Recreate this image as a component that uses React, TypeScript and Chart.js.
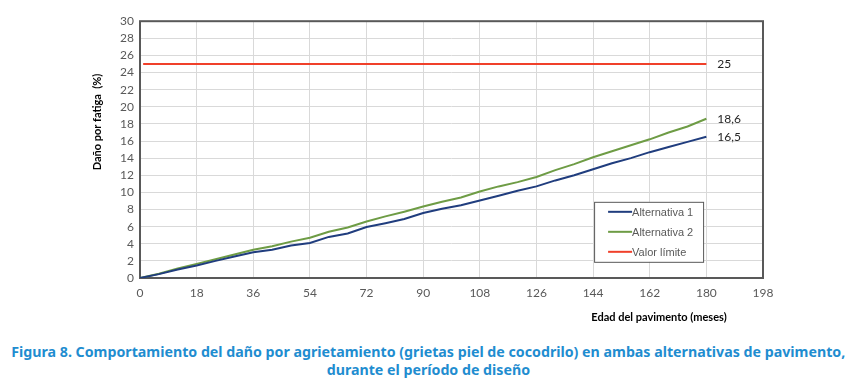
import React, { useEffect, useLayoutEffect, useRef } from "react";
import { Chart, registerables } from "chart.js";

Chart.register(...registerables);

const months = [0, 6, 12, 18, 24, 30, 36, 42, 48, 54, 60, 66, 72, 78, 84, 90, 96, 102, 108, 114, 120, 126, 132, 138, 144, 150, 156, 162, 168, 174, 180];
const alternativa1 = [0, 0.45, 1.0, 1.45, 2.0, 2.5, 3.0, 3.3, 3.8, 4.1, 4.8, 5.2, 5.95, 6.4, 6.9, 7.6, 8.1, 8.5, 9.05, 9.6, 10.2, 10.7, 11.4, 12.0, 12.7, 13.4, 14.0, 14.7, 15.3, 15.9, 16.5];
const alternativa2 = [0, 0.5, 1.1, 1.65, 2.2, 2.75, 3.3, 3.7, 4.25, 4.7, 5.4, 5.9, 6.6, 7.2, 7.75, 8.35, 8.9, 9.4, 10.1, 10.7, 11.2, 11.8, 12.6, 13.3, 14.1, 14.8, 15.5, 16.2, 17.0, 17.7, 18.6];
const limitMonths = [1, 180];
const limitValue = 25;
const seriesNames = ["Alternativa 1", "Alternativa 2", "Valor límite"];
const endLabels = ["16,5", "18,6", "25"];
const xTitle = "Edad del pavimento (meses)";
const yTitle = "Daño por fatiga  (%)";
const caption = [
  "Figura 8. Comportamiento del daño por agrietamiento (grietas piel de cocodrilo) en ambas alternativas de pavimento,",
  "durante el período de diseño",
];

const colors = ["#203d7e", "#6e9c45", "#f0402a"];

export default function App() {
  const ref = useRef<HTMLCanvasElement | null>(null);
  const capRefs = useRef<(HTMLSpanElement | null)[]>([]);

  useLayoutEffect(() => {
    const first = capRefs.current[0];
    if (!first) return;
    const w = first.getBoundingClientRect().width;
    const s = w > 0 ? 834 / w : 1;
    capRefs.current.forEach((el) => {
      if (el) el.style.transform = `scaleX(${s})`;
    });
  }, []);

  useEffect(() => {
    if (!ref.current) return;
    const overlay = {
      id: "overlay",
      beforeDatasetsDraw(chart: any) {
        const { ctx, chartArea: a } = chart;
        ctx.save();
        ctx.strokeStyle = "#595959";
        ctx.lineWidth = 2;
        ctx.strokeRect(a.left, a.top, a.right - a.left, a.bottom - a.top);
        ctx.restore();
      },
      afterDraw(chart: any) {
        const { ctx, scales } = chart;
        const xs = scales.x;
        const ys = scales.y;
        ctx.save();
        ctx.font = "12px Lato, 'Liberation Sans', sans-serif";
        ctx.fillStyle = "#262626";
        ctx.textAlign = "left";
        ctx.textBaseline = "middle";
        const lx = xs.getPixelForValue(180) + 11;
        ctx.fillText(endLabels[0], lx, ys.getPixelForValue(alternativa1[alternativa1.length - 1]));
        ctx.fillText(endLabels[1], lx, ys.getPixelForValue(alternativa2[alternativa2.length - 1]));
        ctx.fillText(endLabels[2], lx, ys.getPixelForValue(limitValue));
        const bx = xs.getPixelForValue(144) + 1;
        const by = ys.getPixelForValue(8.9);
        const bw = 109;
        const bh = 60;
        ctx.fillStyle = "#ffffff";
        ctx.fillRect(bx, by, bw, bh);
        ctx.strokeStyle = "#595959";
        ctx.lineWidth = 1;
        ctx.strokeRect(bx + 0.5, by + 0.5, bw, bh);
        ctx.font = "11px 'Liberation Sans', Arial, sans-serif";
        for (let i = 0; i < 3; i++) {
          const yy = by + 10 + i * 20;
          ctx.strokeStyle = colors[i];
          ctx.lineWidth = 2;
          ctx.beginPath();
          ctx.moveTo(bx + 14, yy);
          ctx.lineTo(bx + 38, yy);
          ctx.stroke();
          ctx.fillStyle = "#595959";
          ctx.fillText(seriesNames[i], bx + 38, yy + 1);
        }
        ctx.fillStyle = "#000000";
        ctx.font = "bold 11px Lato, 'Liberation Sans', sans-serif";
        ctx.textAlign = "center";
        ctx.fillText(xTitle, 651, 309);
        ctx.translate(89, 114);
        ctx.rotate(-Math.PI / 2);
        ctx.fillText(yTitle, 0, 0);
        ctx.restore();
      },
    };

    const chart = new Chart(ref.current, {
      type: "line",
      data: {
        datasets: [
          {
            label: seriesNames[0],
            data: months.map((m, i) => ({ x: m, y: alternativa1[i] })),
            borderColor: colors[0],
            borderWidth: 2,
            pointRadius: 0,
            tension: 0,
          },
          {
            label: seriesNames[1],
            data: months.map((m, i) => ({ x: m, y: alternativa2[i] })),
            borderColor: colors[1],
            borderWidth: 2,
            pointRadius: 0,
            tension: 0,
          },
          {
            label: seriesNames[2],
            data: limitMonths.map((m) => ({ x: m, y: limitValue })),
            borderColor: colors[2],
            borderWidth: 2,
            pointRadius: 0,
          },
        ],
      },
      options: {
        animation: false,
        responsive: false,
        layout: { padding: { left: 0, top: 7, right: 85, bottom: 0 } },
        plugins: { legend: { display: false }, tooltip: { enabled: false } },
        scales: {
          x: {
            type: "linear",
            min: 0,
            max: 198,
            ticks: {
              stepSize: 18,
              autoSkip: false,
              maxRotation: 0,
              color: "#595959",
              font: { family: "Lato, 'Liberation Sans', sans-serif", size: 12 },
              padding: 8,
            },
            grid: { color: "#d9d9d9", drawTicks: false },
            border: { display: false },
            afterFit: (s: any) => {
              s.height = 60;
            },
          },
          y: {
            min: 0,
            max: 30,
            ticks: {
              stepSize: 2,
              autoSkip: false,
              color: "#595959",
              font: { family: "Lato, 'Liberation Sans', sans-serif", size: 12 },
              padding: 6,
            },
            grid: { color: "#d9d9d9", drawTicks: false },
            border: { display: false },
            afterFit: (s: any) => {
              s.width = 132;
            },
          },
        },
      },
      plugins: [overlay],
    });
    return () => chart.destroy();
  }, []);

  return (
    <div>
      <canvas ref={ref} width={840} height={330} style={{ display: "block" }} />
      <div
        style={{
          fontFamily: "'Noto Sans', 'Open Sans', sans-serif",
          fontWeight: "bold",
          fontSize: 15,
          color: "#1f8dd0",
          lineHeight: "18px",
          marginTop: 4,
          width: 840,
          whiteSpace: "nowrap",
        }}
      >
        {caption.map((c, i) => (
          <div key={i} style={{ display: "flex", justifyContent: "center", width: 840 }}>
            <span
              ref={(el) => {
                capRefs.current[i] = el;
              }}
              style={{ display: "inline-block", flex: "none", transformOrigin: "center", whiteSpace: "nowrap" }}
            >
              {c}
            </span>
          </div>
        ))}
      </div>
    </div>
  );
}
